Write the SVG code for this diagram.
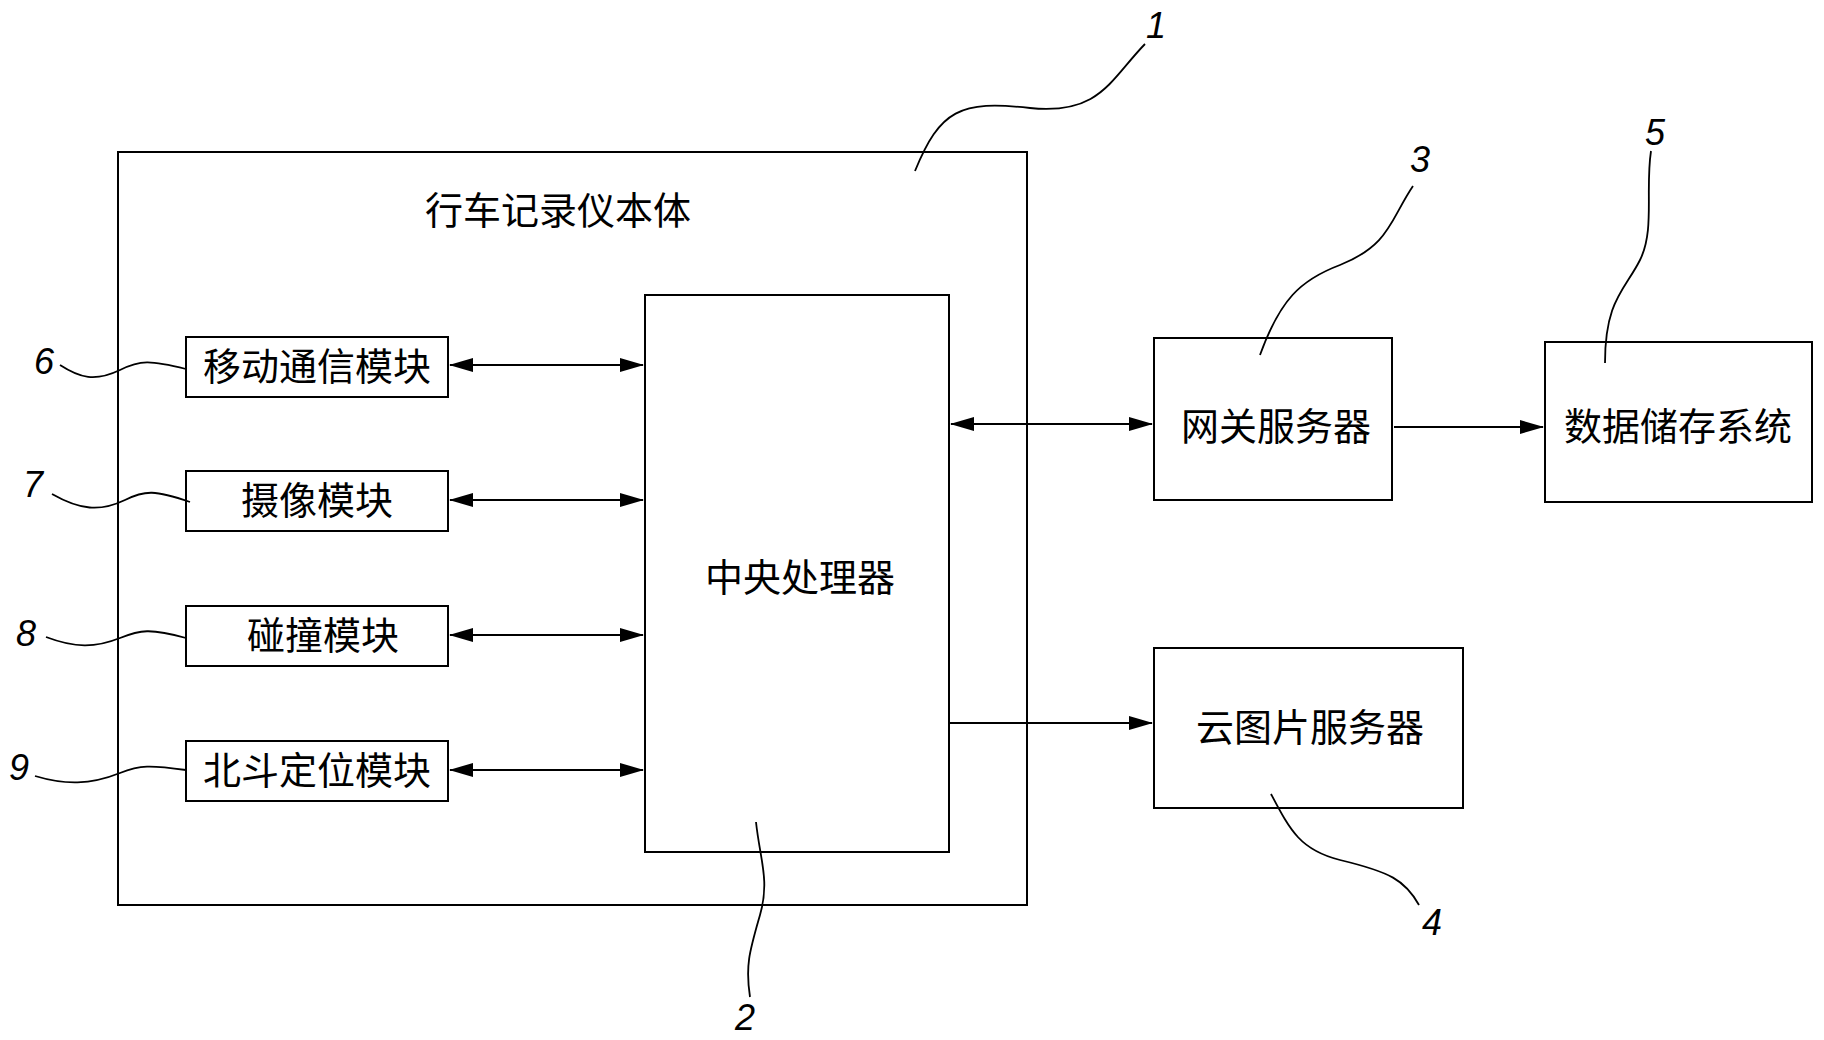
<svg xmlns="http://www.w3.org/2000/svg" width="1824" height="1040" viewBox="0 0 1824 1040">
<style>
rect{fill:#fff;stroke:#000;stroke-width:2}
.t{font-family:"Liberation Sans","Noto Sans CJK SC",sans-serif;font-size:38px;text-anchor:middle;fill:#000}
.n{font-family:"Liberation Sans",sans-serif;font-size:36px;font-style:italic;text-anchor:middle;fill:#000}
.c{stroke:#000;stroke-width:2;fill:none}
.l{stroke:#000;stroke-width:1.8;fill:none}
</style>
<defs>
<marker id="a" markerWidth="24" markerHeight="14" refX="23" refY="7" orient="auto-start-reverse" markerUnits="userSpaceOnUse"><path d="M0,0L24,7L0,14z" fill="#000"/></marker>
</defs>
<rect fill="#fff" x="0" y="0" width="1824" height="1040" style="stroke:none"/>
<g id="body"><rect x="118" y="152" width="909" height="753"/><text class="t" x="558" y="224">行车记录仪本体</text></g>
<g id="cpu"><rect x="645" y="295" width="304" height="557"/><text class="t" x="800" y="591">中央处理器</text></g>
<g id="m6"><rect x="186" y="337" width="262" height="60"/><text class="t" x="317" y="380">移动通信模块</text></g>
<g id="m7"><rect x="186" y="471" width="262" height="60"/><text class="t" x="317" y="514">摄像模块</text></g>
<g id="m8"><rect x="186" y="606" width="262" height="60"/><text class="t" x="323" y="649">碰撞模块</text></g>
<g id="m9"><rect x="186" y="741" width="262" height="60"/><text class="t" x="317" y="784">北斗定位模块</text></g>
<g id="gw"><rect x="1154" y="338" width="238" height="162"/><text class="t" x="1276" y="440">网关服务器</text></g>
<g id="ds"><rect x="1545" y="342" width="267" height="160"/><text class="t" x="1678" y="440">数据储存系统</text></g>
<g id="cl"><rect x="1154" y="648" width="309" height="160"/><text class="t" x="1310" y="741">云图片服务器</text></g>
<g id="connectors">
<line class="c" x1="450" y1="365" x2="643" y2="365" marker-start="url(#a)" marker-end="url(#a)"/>
<line class="c" x1="450" y1="500" x2="643" y2="500" marker-start="url(#a)" marker-end="url(#a)"/>
<line class="c" x1="450" y1="635" x2="643" y2="635" marker-start="url(#a)" marker-end="url(#a)"/>
<line class="c" x1="450" y1="770" x2="643" y2="770" marker-start="url(#a)" marker-end="url(#a)"/>
<line class="c" x1="951" y1="424" x2="1152" y2="424" marker-start="url(#a)" marker-end="url(#a)"/>
<line class="c" x1="1394" y1="427" x2="1543" y2="427" marker-end="url(#a)"/>
<line class="c" x1="949" y1="723" x2="1152" y2="723" marker-end="url(#a)"/>
</g>
<g id="leaders">
<path class="l" d="M915,171 C940,110 960,100 1030,108 C1100,115 1110,80 1145,44"/>
<path class="l" d="M1260,355 C1280,300 1300,280 1340,265 C1390,245 1390,220 1413,186"/>
<path class="l" d="M1605,363 C1605,300 1625,290 1640,260 C1655,230 1645,190 1651,151"/>
<path class="l" d="M186,369 C150,360 140,360 120,370 C95,382 80,378 60,365"/>
<path class="l" d="M190,502 C155,490 145,490 125,500 C100,512 80,510 52,494"/>
<path class="l" d="M186,638 C150,628 140,630 120,638 C95,648 75,648 46,637"/>
<path class="l" d="M186,770 C150,765 140,765 120,773 C90,785 65,785 35,776"/>
<path class="l" d="M756,822 C760,860 770,880 760,915 C750,950 745,965 750,997"/>
<path class="l" d="M1271,794 C1290,830 1300,850 1340,860 C1390,872 1405,880 1419,905"/>
</g>
<g id="nums">
<text class="n" x="1156" y="38">1</text>
<text class="n" x="745" y="1030">2</text>
<text class="n" x="1420" y="172">3</text>
<text class="n" x="1432" y="935">4</text>
<text class="n" x="1655" y="145">5</text>
<text class="n" x="44" y="374">6</text>
<text class="n" x="33" y="497">7</text>
<text class="n" x="26" y="646">8</text>
<text class="n" x="19" y="780">9</text>
</g>
</svg>
